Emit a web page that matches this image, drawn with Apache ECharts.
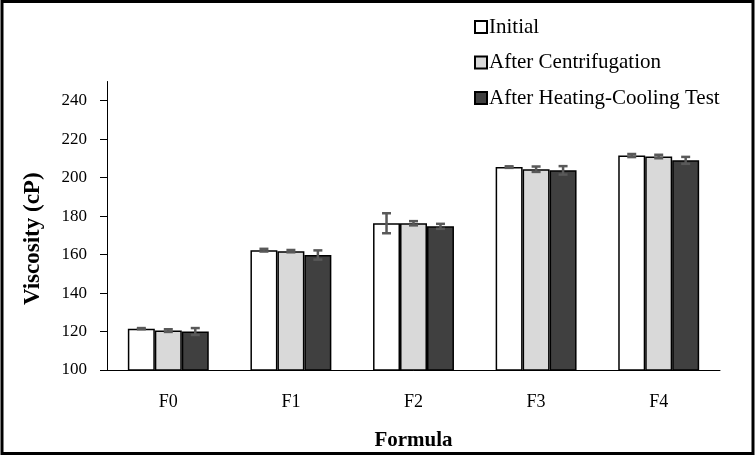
<!DOCTYPE html>
<html><head><meta charset="utf-8">
<script src="https://cdn.jsdelivr.net/npm/echarts@6/dist/echarts.min.js"></script>
<style>html,body{margin:0;padding:0;background:#fff}#c{width:756px;height:456px}</style>
</head><body><div id="c"></div>
<script>
const categories = ['F0', 'F1', 'F2', 'F3', 'F4'];
const seriesNames = ['Initial', 'After Centrifugation', 'After Heating-Cooling Test'];
const initial = [121.5, 162.3, 176.3, 205.5, 211.5];
const initialErr = [0.3, 0.7, 5.2, 0.4, 0.8];
const centrifugation = [120.5, 161.8, 176.3, 204.4, 211.0];
const centrifugationErr = [0.7, 0.6, 1.1, 1.4, 0.9];
const heating = [120.0, 159.8, 174.7, 203.8, 209.0];
const heatingErr = [1.8, 2.4, 1.3, 2.2, 1.8];
const yTicks = [100, 120, 140, 160, 180, 200, 220, 240];

const values = [initial, centrifugation, heating];
const errors = [initialErr, centrifugationErr, heatingErr];
const colors = ['#ffffff', '#d9d9d9', '#404040'];
const GAP = 0.34;
const font = 'Liberation Serif';

const chart = echarts.init(document.getElementById('c'), null, {renderer: 'canvas'});

const barSeries = values.map((v, i) => ({
  name: seriesNames[i], type: 'bar', data: v,
  barGap: '0%', barCategoryGap: '34%',
  itemStyle: {color: colors[i], borderColor: '#000', borderWidth: 1.5},
  z: 2
}));

const errData = [];
errors.forEach((e, s) => e.forEach((d, k) => errData.push([k, values[s][k], d, s])));

const errSeries = {
  type: 'custom', name: 'err', z: 5,
  data: errData,
  encode: {x: 0, y: 1},
  renderItem: function (params, api) {
    const k = api.value(0), v = api.value(1), e = api.value(2), s = api.value(3);
    const band = api.size([1, 0])[0];
    const bw = band * (1 - GAP) / 3;
    const c = api.coord([k, v]);
    const x = c[0] + (s - 1) * bw;
    const yHi = api.coord([k, v + e])[1];
    const yLo = api.coord([k, v - e])[1];
    const cap = 4.5;
    const st = {stroke: '#595959', lineWidth: 2.5};
    return {type: 'group', children: [
      {type: 'line', shape: {x1: x, y1: yHi, x2: x, y2: yLo}, style: st},
      {type: 'line', shape: {x1: x - cap, y1: yHi, x2: x + cap, y2: yHi}, style: st},
      {type: 'line', shape: {x1: x - cap, y1: yLo, x2: x + cap, y2: yLo}, style: st}
    ]};
  }
};

chart.setOption({
  animation: false,
  backgroundColor: '#fff',
  grid: {left: 107, right: 36, top: 81.5, bottom: 85},
  legend: {
    data: seriesNames, orient: 'vertical', left: 474, top: 16.5, padding: 0,
    itemWidth: 12, itemHeight: 12, itemGap: 14.5,
    textStyle: {fontFamily: font, fontSize: 21, color: '#000', padding: [0, 0, 0, -3]},
    icon: 'rect'
  },
  xAxis: {
    type: 'category', data: categories,
    name: 'Formula', nameLocation: 'middle', nameGap: 60,
    nameTextStyle: {fontFamily: font, fontSize: 21, fontWeight: 'bold', color: '#000'},
    axisLine: {lineStyle: {color: '#000', width: 1}},
    axisTick: {show: false},
    axisLabel: {fontFamily: font, fontSize: 18, color: '#000', margin: 23}
  },
  yAxis: {
    type: 'value', min: 100, max: 250, interval: 20,
    name: 'Viscosity (cP)', nameLocation: 'middle', nameGap: 62,
    nameTextStyle: {fontFamily: font, fontSize: 23, fontWeight: 'bold', color: '#000', padding: [0, 26, 0, 0]},
    splitLine: {show: false},
    axisLine: {show: true, lineStyle: {color: '#000', width: 1}},
    axisTick: {show: true, length: 7, lineStyle: {color: '#000'}, customValues: yTicks},
    axisLabel: {fontFamily: font, fontSize: 17, color: '#000', margin: 20, customValues: yTicks}
  },
  graphic: [{
    type: 'rect', shape: {x: 2, y: 1.5, width: 751, height: 452},
    style: {fill: null, stroke: '#000', lineWidth: 3}, z: 100, silent: true
  }],
  series: barSeries.concat([errSeries])
});
</script></body></html>
